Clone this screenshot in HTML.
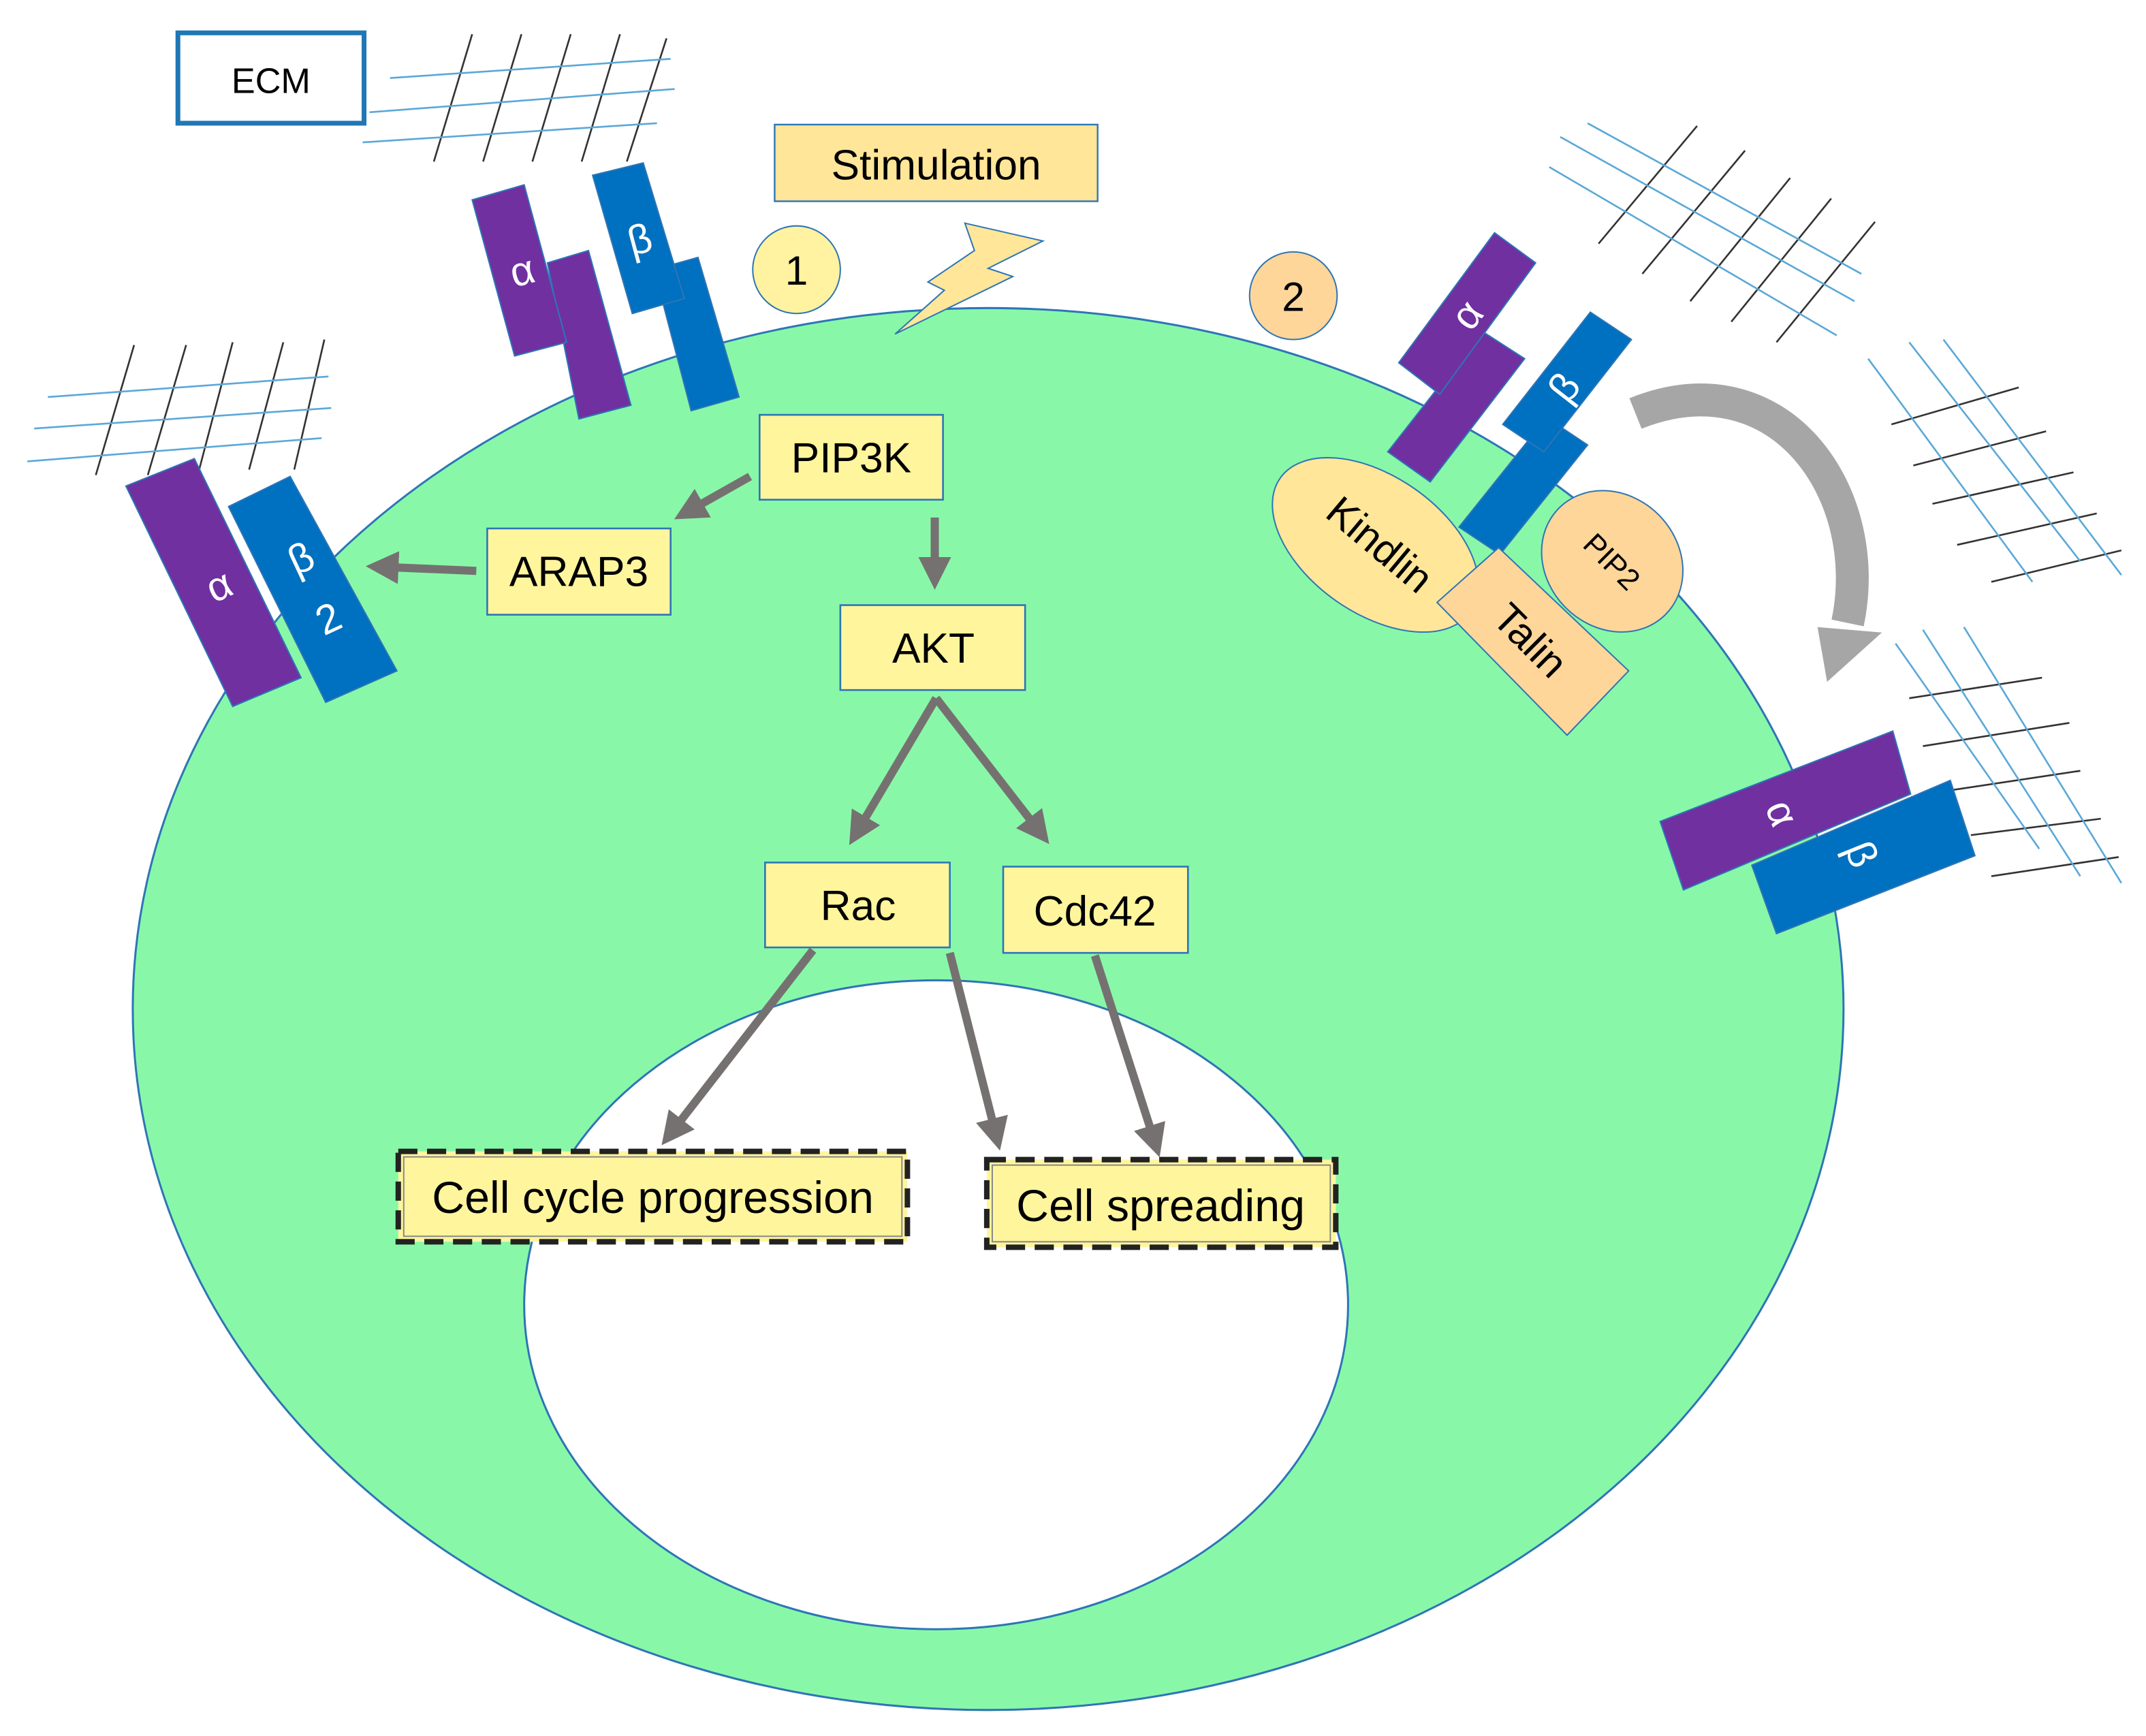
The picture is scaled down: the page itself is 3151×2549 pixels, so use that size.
<!DOCTYPE html>
<html><head><meta charset="utf-8"><style>
html,body{margin:0;padding:0;background:#fff;}
svg{display:block;}
text{font-family:"Liberation Sans",sans-serif;}
</style></head><body>
<svg width="3151" height="2549" viewBox="0 0 1568 1268" preserveAspectRatio="none" xmlns="http://www.w3.org/2000/svg">
<defs>
<marker id="ah" markerWidth="4" markerHeight="4" refX="2.2" refY="2" orient="auto" markerUnits="strokeWidth">
<path d="M0,0 L4,2 L0,4 z" fill="#767171"/></marker>
</defs>
<!-- cell -->
<ellipse cx="722" cy="737" rx="625" ry="512" fill="#88F8A8" stroke="#2E75B6" stroke-width="1.5"/>
<ellipse cx="684" cy="953" rx="301" ry="237" fill="#fff" stroke="#2E75B6" stroke-width="1.5"/>

<!-- ECM meshes -->
<g stroke-width="1.3">
<g stroke="#333"><line x1="317" y1="118" x2="345" y2="25"/><line x1="353" y1="118" x2="381" y2="25"/><line x1="389" y1="118" x2="417" y2="25"/><line x1="425" y1="118" x2="453" y2="25"/><line x1="458" y1="118" x2="487" y2="28"/></g>
<g stroke="#5BA8D8"><line x1="285" y1="57" x2="490" y2="43"/><line x1="270" y1="82" x2="493" y2="65"/><line x1="265" y1="104" x2="480" y2="90"/></g>
<g stroke="#333"><line x1="70" y1="347" x2="98" y2="252"/><line x1="108" y1="347" x2="136" y2="252"/><line x1="145" y1="345" x2="170" y2="250"/><line x1="182" y1="343" x2="207" y2="250"/><line x1="215" y1="343" x2="237" y2="248"/></g>
<g stroke="#5BA8D8"><line x1="35" y1="290" x2="240" y2="275"/><line x1="25" y1="313" x2="242" y2="298"/><line x1="20" y1="337" x2="235" y2="320"/></g>
<g stroke="#333"><line x1="1168" y1="178" x2="1240" y2="92"/><line x1="1200" y1="200" x2="1275" y2="110"/><line x1="1235" y1="220" x2="1308" y2="130"/><line x1="1265" y1="235" x2="1338" y2="145"/><line x1="1298" y1="250" x2="1370" y2="162"/></g>
<g stroke="#5BA8D8"><line x1="1132" y1="122" x2="1342" y2="245"/><line x1="1140" y1="100" x2="1355" y2="220"/><line x1="1160" y1="90" x2="1360" y2="200"/></g>
<g stroke="#333"><line x1="1382" y1="310" x2="1475" y2="283"/><line x1="1398" y1="340" x2="1495" y2="315"/><line x1="1412" y1="368" x2="1515" y2="345"/><line x1="1430" y1="398" x2="1532" y2="375"/><line x1="1455" y1="425" x2="1550" y2="402"/></g>
<g stroke="#5BA8D8"><line x1="1365" y1="262" x2="1485" y2="425"/><line x1="1395" y1="250" x2="1520" y2="410"/><line x1="1420" y1="248" x2="1550" y2="420"/></g>
<g stroke="#333"><line x1="1395" y1="510" x2="1492" y2="495"/><line x1="1405" y1="545" x2="1512" y2="528"/><line x1="1420" y1="578" x2="1520" y2="563"/><line x1="1440" y1="610" x2="1535" y2="598"/><line x1="1455" y1="640" x2="1548" y2="626"/></g>
<g stroke="#5BA8D8"><line x1="1385" y1="470" x2="1490" y2="620"/><line x1="1405" y1="460" x2="1520" y2="640"/><line x1="1435" y1="458" x2="1550" y2="645"/></g>
</g>

<!-- integrins top -->
<g stroke="#2E75B6" stroke-width="1">
<polygon points="400,192 430,183 461,296 423,306" fill="#7030A0"/>
<polygon points="345,146 383,135 414,250 376,260" fill="#7030A0"/>
<polygon points="478,197 510,188 540,290 505,300" fill="#0070C0"/>
<polygon points="433,128 470,119 500,218 462,229" fill="#0070C0"/>
<!-- left -->
<polygon points="92,355 142,335 220,495 170,516" fill="#7030A0"/>
<polygon points="167,370 212,348 290,490 238,513" fill="#0070C0"/>
<!-- right top -->
<polygon points="1014,330 1083,242 1114,262 1045,352" fill="#7030A0"/>
<polygon points="1022,265 1092,170 1122,192 1052,288" fill="#7030A0"/>
<polygon points="1066,385 1130,305 1160,325 1096,405" fill="#0070C0"/>
<polygon points="1098,310 1162,228 1192,248 1128,330" fill="#0070C0"/>
<!-- right -->
<polygon points="1213,600 1383,534 1396,580 1230,650" fill="#7030A0"/>
<polygon points="1280,632 1425,570 1443,625 1298,682" fill="#0070C0"/>
</g>
<g fill="#fff" font-size="30" text-anchor="middle">
<text x="382" y="208" transform="rotate(-15 382 200)">α</text>
<text x="468" y="185" transform="rotate(-15 468 177)">β</text>
<text x="160" y="438" transform="rotate(-25 160 428)">α</text>
<text x="220" y="418" transform="rotate(-25 220 408)">β</text>
<text x="240" y="462" transform="rotate(-25 240 452)">2</text>
<text x="1072" y="240" transform="rotate(-52 1072 230)">α</text>
<text x="1143" y="293" transform="rotate(-52 1143 283)">β</text>
<text x="1302" y="604" transform="rotate(68 1302 594)">α</text>
<text x="1360" y="634" transform="rotate(68 1360 624)">β</text>
</g>

<!-- Kindlin, Talin, PIP2 -->
<ellipse cx="1005" cy="398" rx="85" ry="50" transform="rotate(35 1005 398)" fill="#FFE699" stroke="#2E75B6" stroke-width="1"/>
<polygon points="1050,440 1095,400 1190,490 1145,537" fill="#FFD699" stroke="#2E75B6" stroke-width="1"/>
<ellipse cx="1178" cy="410" rx="55" ry="48" transform="rotate(45 1178 410)" fill="#FFD699" stroke="#2E75B6" stroke-width="1"/>
<text x="1008" y="408" font-size="30" text-anchor="middle" transform="rotate(40 1008 398)">Kindlin</text>
<text x="1118" y="478" font-size="30" text-anchor="middle" transform="rotate(45 1118 468)">Talin</text>
<text x="1178" y="418" font-size="22" text-anchor="middle" transform="rotate(45 1178 410)">PIP2</text>

<!-- curved grey arrow -->
<path d="M1195,302 C1300,260 1370,360 1350,455" fill="none" stroke="#A6A6A6" stroke-width="24"/>
<polygon points="1328,458 1375,462 1335,498" fill="#A6A6A6"/>

<!-- lightning -->
<polygon points="705,163 762,176 722,196 740,202 654,244 690,212 678,206 712,183" fill="#FFE699" stroke="#2E75B6" stroke-width="1"/>

<!-- ECM box -->
<rect x="130" y="24" width="136" height="66" fill="#fff" stroke="#1F77B4" stroke-width="3.5"/>
<text x="198" y="68" font-size="26" text-anchor="middle">ECM</text>

<!-- Stimulation & circles -->
<rect x="566" y="91" width="236" height="56" fill="#FFE699" stroke="#2E75B6" stroke-width="1.2"/>
<text x="684" y="131" font-size="31" text-anchor="middle">Stimulation</text>
<circle cx="582" cy="197" r="32" fill="#FFF2A0" stroke="#2E75B6" stroke-width="1"/>
<text x="582" y="208" font-size="30" text-anchor="middle">1</text>
<circle cx="945" cy="216" r="32" fill="#FFD699" stroke="#2E75B6" stroke-width="1"/>
<text x="945" y="227" font-size="30" text-anchor="middle">2</text>

<!-- pathway boxes -->
<g fill="#FFF59D" stroke="#2E75B6" stroke-width="1.3">
<rect x="555" y="303" width="134" height="62"/>
<rect x="356" y="386" width="134" height="63"/>
<rect x="614" y="442" width="135" height="62"/>
<rect x="559" y="630" width="135" height="62"/>
<rect x="733" y="633" width="135" height="63"/>
</g>
<g font-size="31" text-anchor="middle">
<text x="622" y="345">PIP3K</text>
<text x="423" y="428">ARAP3</text>
<text x="682" y="484">AKT</text>
<text x="627" y="672">Rac</text>
<text x="800" y="676">Cdc42</text>
</g>
<rect x="291" y="841" width="372" height="66" fill="#FFF59D" stroke="#222" stroke-width="4" stroke-dasharray="14,7"/>
<rect x="295" y="845" width="364" height="58" fill="none" stroke="#888" stroke-width="1"/>
<text x="477" y="886" font-size="33" text-anchor="middle">Cell cycle progression</text>
<rect x="721" y="847" width="255" height="64" fill="#FFF59D" stroke="#222" stroke-width="4" stroke-dasharray="14,7"/>
<rect x="725" y="851" width="247" height="56" fill="none" stroke="#888" stroke-width="1"/>
<text x="848" y="892" font-size="33" text-anchor="middle">Cell spreading</text>

<!-- arrows -->
<g stroke="#767171" stroke-width="6" fill="none" marker-end="url(#ah)">
<line x1="548" y1="348" x2="502" y2="374"/>
<line x1="348" y1="417" x2="278" y2="414"/>
<line x1="683" y1="378" x2="683" y2="420"/>
<line x1="684" y1="510" x2="626" y2="608"/>
<line x1="684" y1="510" x2="760" y2="608"/>
<line x1="594" y1="694" x2="490" y2="828"/>
<line x1="694" y1="696" x2="728" y2="830"/>
<line x1="800" y1="698" x2="844" y2="835"/>
</g>
</svg>
</body></html>
